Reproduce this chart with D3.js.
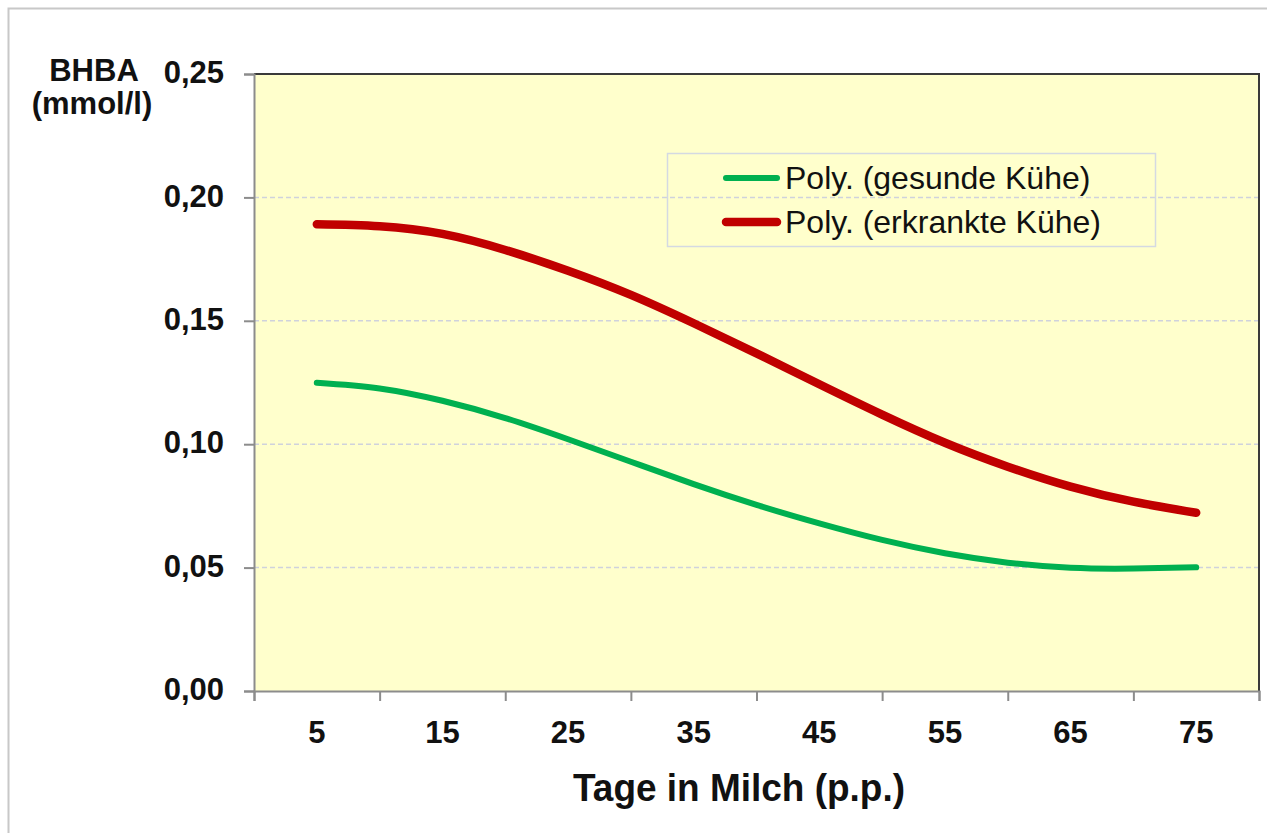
<!DOCTYPE html>
<html>
<head>
<meta charset="utf-8">
<script src="https://cdn.jsdelivr.net/npm/d3@7"></script>
<style>
  body { margin: 0; background: #fff; }
  text { font-family: "Liberation Sans", Arial, sans-serif; }
</style>
</head>
<body>
<div id="app"></div>
<script>
// Days post partum at which the trend curves were read
const days = [5, 10, 15, 20, 25, 30, 35, 40, 45, 50, 55, 60, 65, 70, 75];
// Poly. trendline, healthy cows (mmol/l)
const gesunde = [0.1249, 0.1226, 0.1176, 0.1106, 0.1020, 0.0929, 0.0838, 0.0754, 0.0679, 0.0612, 0.0558, 0.0520, 0.0499, 0.0496, 0.0501];
// Poly. trendline, diseased cows (mmol/l)
const erkrankte = [0.1891, 0.1883, 0.1852, 0.1787, 0.1703, 0.1605, 0.1490, 0.1368, 0.1243, 0.1120, 0.1006, 0.0909, 0.0828, 0.0767, 0.0722];
const xTickLabels = [5, 15, 25, 35, 45, 55, 65, 75];
const yTicks = [0, 0.05, 0.10, 0.15, 0.20, 0.25];
const seriesNames = ["Poly. (gesunde Kühe)", "Poly. (erkrankte Kühe)"];

const width = 1267, height = 833;
const plot = { left: 254, right: 1259, top: 74, bottom: 691 };

const svg = d3.select("#app").append("svg")
  .attr("width", width)
  .attr("height", height);

// outer frame
svg.append("rect")
  .attr("x", 8.5).attr("y", 8.5)
  .attr("width", width).attr("height", height)
  .attr("fill", "none")
  .attr("stroke", "#c8c8c8")
  .attr("stroke-width", 2);

// x is a category axis 0..80 with bands of 10 days
const x = d3.scaleLinear().domain([0, 80]).range([plot.left, plot.right]);
const y = d3.scaleLinear().domain([0, 0.25]).range([plot.bottom, plot.top]);

// plot background
svg.append("rect")
  .attr("x", plot.left).attr("y", plot.top)
  .attr("width", plot.right - plot.left)
  .attr("height", plot.bottom - plot.top)
  .attr("fill", "#ffffcc");

// dashed gridlines
svg.append("g")
  .selectAll("line")
  .data(yTicks.filter(d => d > 0 && d < 0.25))
  .join("line")
  .attr("x1", plot.left).attr("x2", plot.right)
  .attr("y1", d => y(d)).attr("y2", d => y(d))
  .attr("stroke", "#cfd2dc")
  .attr("stroke-width", 1.5)
  .attr("stroke-dasharray", "5,3");

// top and right border (dark)
svg.append("path")
  .attr("d", `M${plot.left},${plot.top}H${plot.right}V${plot.bottom}`)
  .attr("fill", "none")
  .attr("stroke", "#3a3a3a")
  .attr("stroke-width", 2);

// y axis
const yAxis = svg.append("g")
  .attr("transform", `translate(${plot.left},0)`)
  .call(d3.axisLeft(y).tickValues(yTicks).tickSize(10).tickPadding(20)
    .tickFormat(d => d3.format(".2f")(d).replace(".", ",")));
yAxis.select(".domain").attr("stroke", "#8c8c8c").attr("stroke-width", 2);
yAxis.selectAll(".tick line").attr("stroke", "#8c8c8c").attr("stroke-width", 2);
yAxis.selectAll(".tick text")
  .attr("font-size", 31).attr("font-weight", "bold").attr("fill", "#111")
  .attr("font-family", "Liberation Sans, Arial, sans-serif")
  .attr("dy", "0.28em");

// x axis: tick marks at band edges, labels in band centres
const xAxis = svg.append("g")
  .attr("transform", `translate(0,${plot.bottom})`)
  .call(d3.axisBottom(x).tickValues(d3.range(0, 81, 10)).tickSize(10).tickFormat(""));
xAxis.select(".domain").attr("stroke", "#8c8c8c").attr("stroke-width", 2);
xAxis.selectAll(".tick line").attr("stroke", "#8c8c8c").attr("stroke-width", 2);

svg.append("g")
  .selectAll("text")
  .data(xTickLabels)
  .join("text")
  .attr("x", d => x(d))
  .attr("y", plot.bottom + 52)
  .attr("text-anchor", "middle")
  .attr("font-size", 31)
  .attr("font-weight", "bold")
  .attr("fill", "#111")
  .text(d => d);

// axis titles
svg.append("text")
  .attr("x", 94).attr("y", 81)
  .attr("text-anchor", "middle")
  .attr("font-size", 31).attr("font-weight", "bold").attr("fill", "#111")
  .text("BHBA");
svg.append("text")
  .attr("x", 92).attr("y", 114)
  .attr("text-anchor", "middle")
  .attr("font-size", 31).attr("font-weight", "bold").attr("fill", "#111")
  .text("(mmol/l)");
svg.append("text")
  .attr("x", 573).attr("y", 801)
  .attr("font-size", 39).attr("font-weight", "bold").attr("fill", "#111")
  .attr("textLength", 332).attr("lengthAdjust", "spacingAndGlyphs")
  .text("Tage in Milch (p.p.)");

// trend curves
const line = d3.line()
  .x(d => x(d[0]))
  .y(d => y(d[1]))
  .curve(d3.curveNatural);

const series = [
  { name: seriesNames[0], values: gesunde, color: "#00b050", width: 6 },
  { name: seriesNames[1], values: erkrankte, color: "#c00000", width: 8.5 }
];

svg.append("g")
  .selectAll("path")
  .data(series)
  .join("path")
  .attr("d", s => line(days.map((d, i) => [d, s.values[i]])))
  .attr("fill", "none")
  .attr("stroke", s => s.color)
  .attr("stroke-width", s => s.width)
  .attr("stroke-linecap", "round");

// legend (transparent box, gridline shows through)
const legend = svg.append("g");
legend.append("rect")
  .attr("x", 667.5).attr("y", 153.5)
  .attr("width", 488).attr("height", 93)
  .attr("fill", "none")
  .attr("stroke", "#d4d9e2")
  .attr("stroke-width", 1.5);

const items = legend.selectAll("g")
  .data(series)
  .join("g")
  .attr("transform", (d, i) => `translate(0,${178 + i * 44})`);
items.append("line")
  .attr("x1", 726).attr("x2", 777)
  .attr("stroke", d => d.color)
  .attr("stroke-width", d => d.width)
  .attr("stroke-linecap", "round");
items.append("text")
  .attr("x", 785).attr("dy", "0.35em")
  .attr("font-size", 32).attr("fill", "#111")
  .text(d => d.name);
</script>
</body>
</html>
